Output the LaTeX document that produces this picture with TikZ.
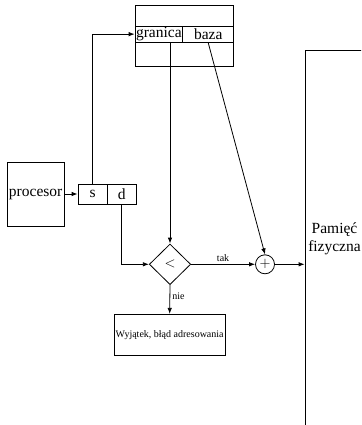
\documentclass[tikz,border=0pt]{standalone}
\usepackage{fontspec}
\setmainfont{Liberation Serif}
\usetikzlibrary{
    arrows.meta,
    chains,
    positioning,
    shapes.geometric,
}
\newcommand{\bigtxt}{\fontsize{15.5}{18}\selectfont}
\newcommand{\smalltxt}{\fontsize{10}{12}\selectfont}
\tikzstyle{box}=[draw,rectangle,inner sep=0pt,font=\bigtxt]
\tikzstyle{cell}=[draw,rectangle,on chain,inner sep=0pt,font=\bigtxt]
\tikzstyle{lbl}=[font=\smalltxt,inner sep=2pt]

\begin{document}
\begin{tikzpicture}[x=1pt,y=-1pt,line width=0.8pt,>={Latex[length=6pt,width=4.5pt]}]
                \useasboundingbox (0,0) rectangle (361,425);
                \clip (0,0) rectangle (361,425);
                % tablica segmentow
                \node[box,minimum width=98.7pt,minimum height=60.3pt] (tab) at (184.35,35.85) {};
                \begin{scope}[start chain=going right,node distance=-\pgflinewidth]
                    \node[cell,minimum width=47.7pt,minimum height=16.3pt] (granica) at (158.85,34.15) {granica};
                    \node[cell,minimum width=51pt,minimum height=16.3pt] (baza) {baza};
                \end{scope}
                % procesor i adres logiczny
                \node[box,minimum width=56.7pt,minimum height=64pt] (proc) at (35.65,194) {procesor};
                \begin{scope}[start chain=going right,node distance=-\pgflinewidth]
                    \node[cell,minimum width=29.3pt,minimum height=20pt] (s) at (92.65,194) {s};
                    \node[cell,minimum width=29pt,minimum height=20pt] (d) {d};
                \end{scope}
                \node[draw,diamond,inner sep=0pt,minimum width=41.4pt,minimum height=40.6pt,font=\bigtxt] (cmp) at (170,264.3) {$<$};
                \node[draw,circle,inner sep=0pt,minimum size=19pt,font=\bigtxt] (sum) at (265,264.3) {$+$};
                \node[box,minimum width=110.7pt,minimum height=40.7pt,font=\smalltxt] (exc) at (169.65,334.65) {Wyjątek, błąd adresowania};
                \node[box,minimum width=59pt,minimum height=376.6pt,align=center] (mem) at (334.5,239) {Pamięć\\fizyczna};
                % polaczenia
                \draw[->] (proc.east) -- (s.west);
                \draw[->] (s.north) |- (granica.west);
                \draw[->] (cmp.north |- granica.south) -- (cmp.north);
                \draw[->] (d.south) |- (cmp.west);
                \draw[->] (baza.south) -- (sum.north);
                \draw[->] (cmp.east) -- node[lbl,above] {tak} (sum.west);
                \draw[->] (sum.east) -- (sum.east -| mem.west);
                \draw[->] (cmp.south) -- node[lbl,right,pos=0.4] {nie} (exc.north);
\end{tikzpicture}
\end{document}
